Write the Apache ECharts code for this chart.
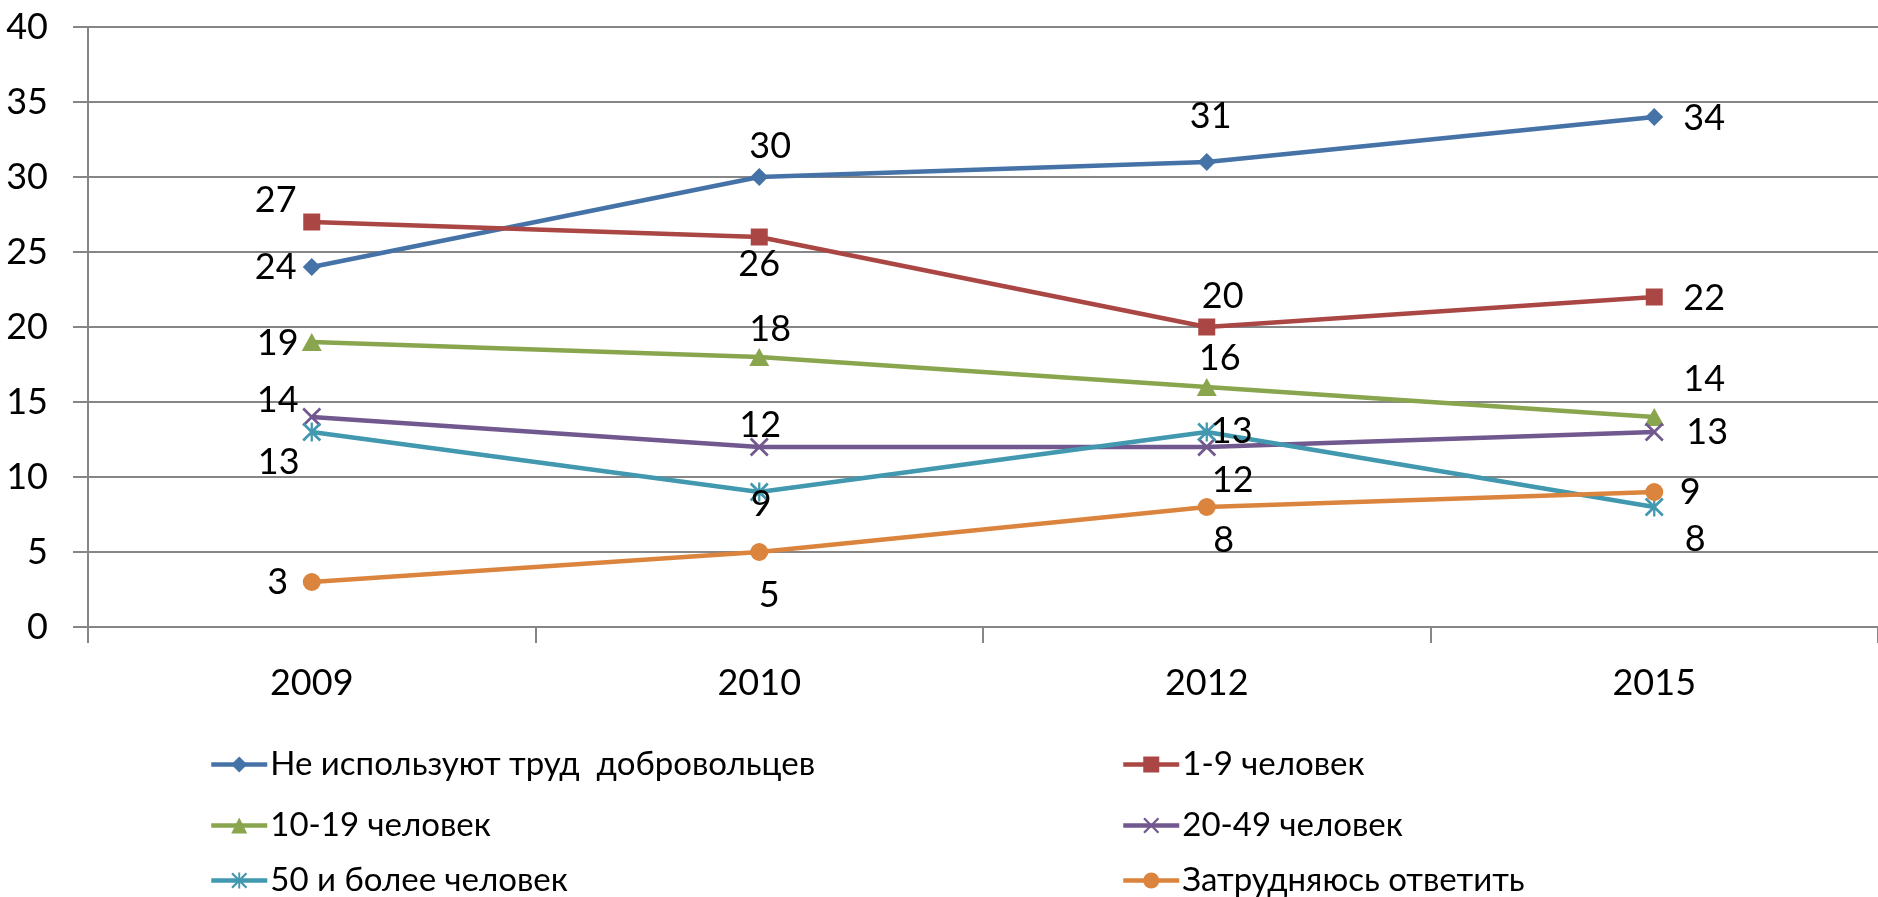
<!DOCTYPE html>
<html>
<head>
<meta charset="UTF-8">
<title>Волонтеры</title>
<script type="text/javascript" src="https://cdn.jsdelivr.net/npm/echarts@6/dist/echarts.min.js"></script>
<style>
  html, body { margin: 0; padding: 0; background: #fff; }
</style>
</head>
<body>
	<div id="box" style="width: 1878px; height: 897px;"></div>

	<script type="text/javascript">
		// данные
		var years = ['2009', '2010', '2012', '2015'];
		var yTicks = [0, 5, 10, 15, 20, 25, 30, 35, 40];

		var notUsing = [24, 30, 31, 34];      // Не используют труд добровольцев
		var from1to9 = [27, 26, 20, 22];      // 1-9 человек
		var from10to19 = [19, 18, 16, 14];    // 10-19 человек
		var from20to49 = [14, 12, 12, 13];    // 20-49 человек
		var over50 = [13, 9, 13, 8];          // 50 и более человек
		var hardToSay = [3, 5, 8, 9];         // Затрудняюсь ответить

		var names = ['Не используют труд  добровольцев', '1-9 человек', '10-19 человек',
			'20-49 человек', '50 и более человек', 'Затрудняюсь ответить'];

		var colors = ['#4572A7', '#AA4643', '#89A54E', '#71588F', '#4198AF', '#DB843D'];

		var crossPath = 'path://M0,1L1,0L5,4L9,0L10,1L6,5L10,9L9,10L5,6L1,10L0,9L4,5Z';
		var starPath = 'path://M0,1L1,0L5,4L9,0L10,1L6,5L10,9L9,10L5,6L1,10L0,9L4,5Z M4.4,0L5.6,0L5.6,10L4.4,10Z';
		var symbols = ['diamond', 'rect', 'triangle', crossPath, starPath, 'circle'];
		var symbolSizes = [[18, 18], [17, 17], [20, 18], [19, 19], [19, 19], [18, 18]];

		// смещения подписей относительно точек (пиксели)
		var labelShift = [
			[[-36, 0], [11, -31], [4, -46], [50, 1]],
			[[-36, -22], [0, 27], [16, -31], [50, 1]],
			[[-34, 1], [11, -28], [13, -29], [50, -38]],
			[[-34, -17], [1, -22], [26, 33], [53, 0]],
			[[-33, 30], [2, 12], [25, -1], [41, 32]],
			[[-34, 0], [10, 43], [17, 33], [36, 0]]
		];

		var seriesData = [notUsing, from1to9, from10to19, from20to49, over50, hardToSay];
		var font = 'Lato, "Open Sans", sans-serif';

		var series = [];
		for (var i = 0; i < seriesData.length; i++) {
			var items = [];
			for (var j = 0; j < seriesData[i].length; j++) {
				items.push({
					value: seriesData[i][j],
					label: { offset: labelShift[i][j] }
				});
			}
			series.push({
				name: names[i],
				type: 'line',
				data: items,
				symbol: symbols[i],
				symbolSize: symbolSizes[i],
				showAllSymbol: true,
				lineStyle: { color: colors[i], width: 4.5 },
				itemStyle: { color: colors[i] },
				label: {
					show: true,
					position: 'inside',
					color: '#000',
					fontFamily: font,
					fontSize: 36
				},
				emphasis: { disabled: true },
				animation: false
			});
		}

		// легенда: две колонки по три строки, каждый элемент отдельно
		var legendCols = [204, 1116];
		var legendRows = [743, 804, 859];
		var legends = [];
		for (var k = 0; k < names.length; k++) {
			legends.push({
				data: [names[k]],
				left: legendCols[k % 2],
				top: legendRows[Math.floor(k / 2)],
				itemWidth: 56, itemHeight: 20,
				lineStyle: { width: 4.5 },
				textStyle: { fontFamily: font, fontSize: 33, color: '#000', padding: [0, 0, 0, -2] }
			});
		}

		var myChart = echarts.init(document.getElementById('box'));
		myChart.setOption({
			color: colors,
			grid: { left: 88, right: 0, top: 27, height: 600 },
			legend: legends,
			xAxis: {
				type: 'category',
				data: years,
				boundaryGap: true,
				axisLine: { lineStyle: { color: '#868686', width: 2 } },
				axisTick: { show: true, length: 16, lineStyle: { color: '#868686', width: 2 } },
				axisLabel: { color: '#000', fontFamily: font, fontSize: 36, margin: 38 }
			},
			yAxis: {
				type: 'value',
				min: yTicks[0],
				max: yTicks[yTicks.length - 1],
				interval: 5,
				axisLine: { show: true, lineStyle: { color: '#868686', width: 2 } },
				axisTick: { show: true, length: 15, lineStyle: { color: '#868686', width: 2 } },
				splitLine: { lineStyle: { color: '#868686', width: 2 } },
				axisLabel: { color: '#000', fontFamily: font, fontSize: 36, margin: 40 }
			},
			series: series
		});
	</script>

</body>
</html>
